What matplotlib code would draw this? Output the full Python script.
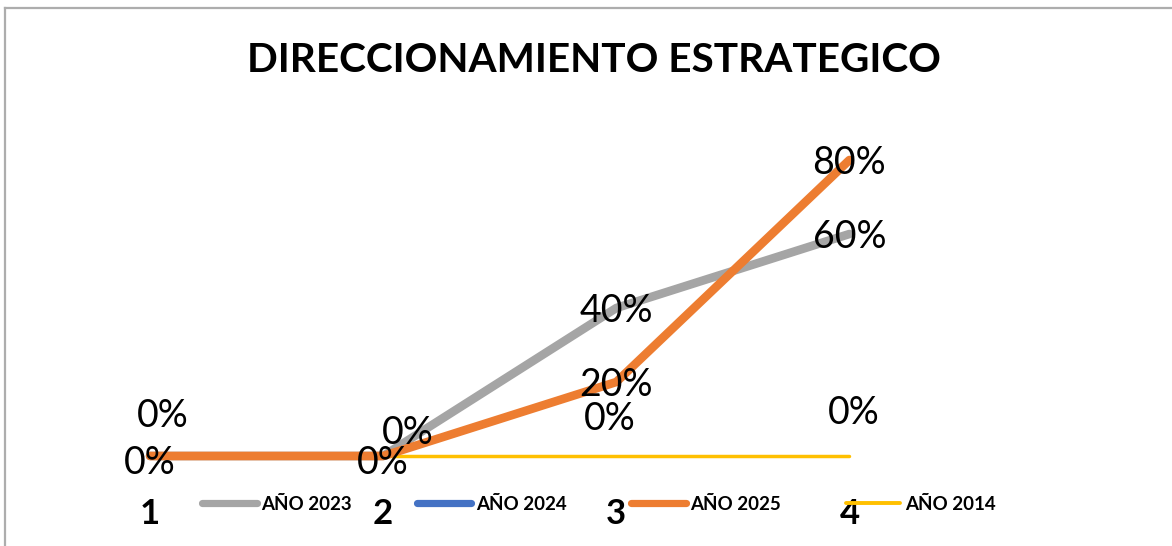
import matplotlib
matplotlib.use("Agg")
import matplotlib.pyplot as plt
from matplotlib.lines import Line2D
import numpy as np

categories = ["1", "2", "3", "4"]
series_names = ["AÑO 2023", "AÑO 2024", "AÑO 2025", "AÑO 2014"]
v2023 = [0.0, 0.0, 0.40, 0.60]
v2024 = [np.nan, np.nan, np.nan, np.nan]
v2025 = [0.0, 0.0, 0.20, 0.80]
v2014 = [0.0, 0.0, 0.0, 0.0]
title = "DIRECCIONAMIENTO ESTRATEGICO"

FONT = "Lato"
plt.rcParams["font.family"] = [FONT, "DejaVu Sans"]

W, H = 1172, 546
fig = plt.figure(figsize=(W / 100, H / 100), dpi=100)

def fx(px):
    return px / W

def fy(py):
    return 1 - py / H

# plot area
left, right, top, bottom = 33.5, 966, 86, 456
ax = fig.add_axes([fx(left), fy(bottom), fx(right - left), (bottom - top) / H])
x = list(range(len(categories)))
ax.set_xlim(-0.5, len(categories) - 0.5)
ax.set_ylim(0, 1.0)
for s in ax.spines.values():
    s.set_visible(False)
ax.set_yticks([])
ax.set_xticks(x)
ax.set_xticklabels(categories, fontsize=25, fontweight="bold")
ax.tick_params(axis="x", length=0, pad=30)

colors = ["#A5A5A5", "#4472C4", "#ED7D31", "#FFC000"]
widths = [6.2, 6.2, 6.2, 2.5]
values = [v2023, v2024, v2025, v2014]
zorders = [3, 2, 4, 3.5]
for vals, c, w, z, name in zip(values, colors, widths, zorders, series_names):
    ax.plot(x, vals, color=c, lw=w, zorder=z, clip_on=False,
            solid_capstyle="round", solid_joinstyle="round", label=name)

# data labels: (series index, point index, dx px, dy px)
label_pos = [
    (0, 0, 13, 43), (0, 1, 25, 26), (0, 2, 0, 0), (0, 3, 0, 0),
    (2, 0, 0, -4), (2, 1, 0, -4), (2, 2, 0, 0), (2, 3, 0, 0),
    (3, 2, -7, 40), (3, 3, 4, 46),
]
for si, pi, dx, dy in label_pos:
    v = values[si][pi]
    ax.annotate(f"{round(v * 100):d}%", (x[pi], v), xytext=(dx, dy - 14),
                textcoords="offset pixels", ha="center", va="baseline",
                fontsize=27, color="#000000", zorder=10, annotation_clip=False)

fig.text(fx(594), fy(60), title, ha="center", va="center",
         fontsize=29.2, fontweight="bold", color="#000000")

handles = [Line2D([0], [0], color=c, lw=(5.2 if w > 3 else 2.8), solid_capstyle="round")
           for c, w in zip(colors, widths)]
leg = fig.legend(handles, series_names, loc="center", ncol=4,
                 bbox_to_anchor=(fx(599), fy(504)), frameon=False,
                 prop={"family": FONT, "weight": "bold", "size": 13.5},
                 handlelength=2.9, handletextpad=0.25, columnspacing=3.45,
                 borderpad=0, borderaxespad=0)

# chart border (top and left visible)
fig.add_artist(Line2D([fx(5), 1.0], [fy(8), fy(8)], color="#ADADAD", lw=1.6,
                      transform=fig.transFigure))
fig.add_artist(Line2D([fx(5), fx(5)], [fy(8), 0.0], color="#ADADAD", lw=1.6,
                      transform=fig.transFigure))

fig.savefig("out.png", dpi=100, facecolor="white")
